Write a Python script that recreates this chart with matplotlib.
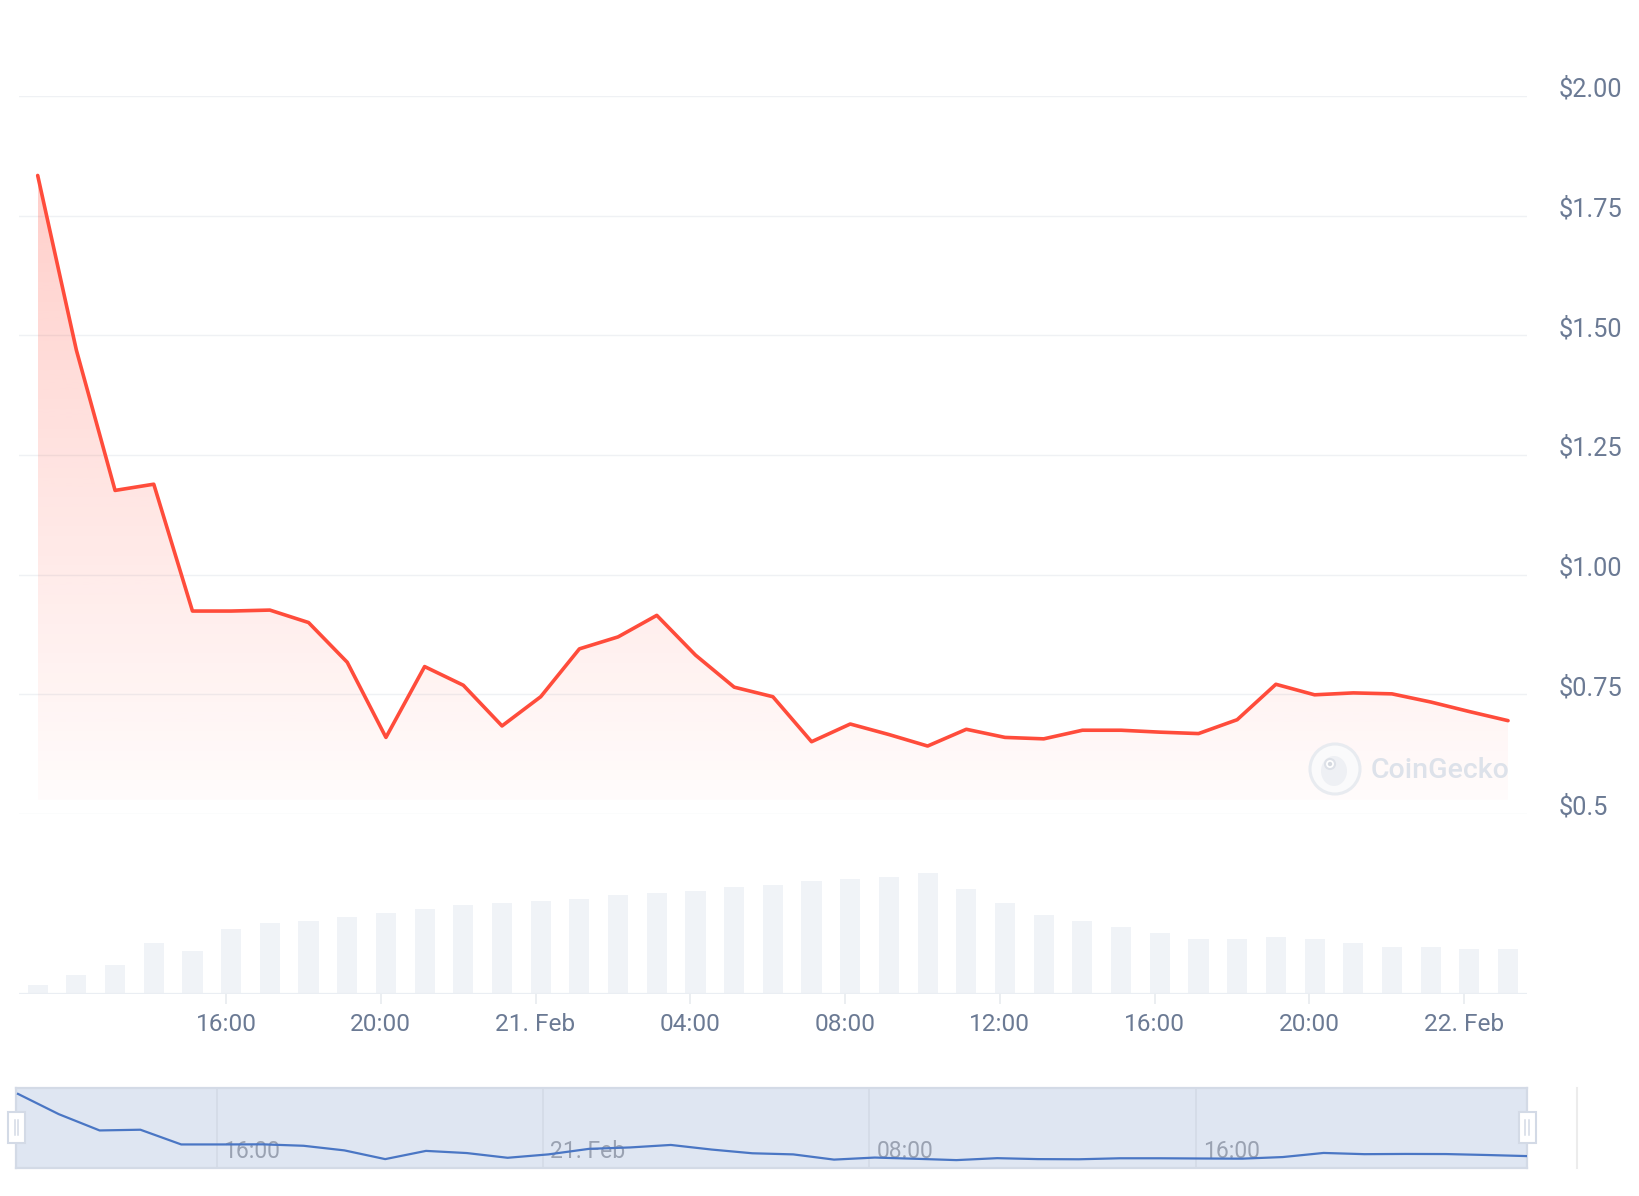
import numpy as np
import matplotlib
matplotlib.use("Agg")
import matplotlib.pyplot as plt
import matplotlib.transforms as mtransforms
from matplotlib.patches import Rectangle, Circle, Ellipse
from matplotlib.lines import Line2D

plt.rcParams["font.family"] = ["Roboto", "DejaVu Sans"]

# hours counted from 20 Feb 00:00, one point per hour starting 11:08
start_hour = 11 + 8 / 60
price = [1.834, 1.469, 1.176, 1.189, 0.924, 0.924, 0.926, 0.900, 0.817, 0.660,
         0.808, 0.769, 0.684, 0.745, 0.845, 0.870, 0.915, 0.832, 0.765, 0.745,
         0.651, 0.688, 0.666, 0.642, 0.677, 0.660, 0.657, 0.675, 0.675, 0.671,
         0.668, 0.697, 0.771, 0.749, 0.753, 0.751, 0.734, 0.714, 0.695]
volume = [0.9, 1.9, 2.9, 5.1, 4.3, 6.5, 7.1, 7.3, 7.7, 8.1, 8.5, 8.9, 9.1, 9.3,
          9.5, 9.9, 10.1, 10.3, 10.7, 10.9, 11.3, 11.5, 11.7, 12.1, 10.5, 9.1,
          7.9, 7.3, 6.7, 6.1, 5.5, 5.5, 5.7, 5.5, 5.1, 4.7, 4.7, 4.5, 4.5]
hours = start_hour + np.arange(len(price))

tick_hours = [16, 20, 24, 28, 32, 36, 40, 44, 48]
tick_labels = ["16:00", "20:00", "21. Feb", "04:00", "08:00", "12:00",
               "16:00", "20:00", "22. Feb"]
price_ticks = [0.5, 0.75, 1.0, 1.25, 1.5, 1.75, 2.0]
price_labels = ["$0.5", "$0.75", "$1.00", "$1.25", "$1.50", "$1.75", "$2.00"]
nav_ticks = [16, 24, 32, 40]
nav_labels = ["16:00", "21. Feb", "08:00", "16:00"]

W, H = 1640, 1196
fig = plt.figure(figsize=(W / 100, H / 100), dpi=100)


def frac(x0, y0, x1, y1):
    # pixel box (top-left origin) -> figure fraction rect
    return [x0 / W, 1 - y1 / H, (x1 - x0) / W, (y1 - y0) / H]


RED = "#ff4c3b"
LABEL = "#6b7a94"
GRID = "#eff1f4"
xlim = (start_hour - 0.483, start_hour + 38.49)

# ---- price pane
ax = fig.add_axes(frac(19, 96, 1527, 814))
ax.set_xlim(xlim)
ax.set_ylim(0.5, 2.0)
for s in ax.spines.values():
    s.set_visible(False)
ax.set_xticks([])
ax.yaxis.tick_right()
ax.set_yticks(price_ticks)
ax.set_yticklabels(price_labels)
ax.tick_params(axis="y", length=0, pad=22.5, labelsize=18.3, labelcolor=LABEL)
for lab in ax.get_yticklabels():
    lab.set_horizontalalignment("left")
    lab.set_transform(lab.get_transform() +
                      mtransforms.ScaledTranslation(0, 9 / 100, fig.dpi_scale_trans))
for v in price_ticks:
    ax.axhline(v, color=GRID, lw=1.0, zorder=0)

base = 0.53
poly = ax.fill_between(hours, price, base, color="none", lw=0)
grad = np.zeros((256, 1, 4))
grad[:, 0, 0] = 1.0
grad[:, 0, 1] = 0x4c / 255
grad[:, 0, 2] = 0x3b / 255
grad[:, 0, 3] = np.linspace(0.02, 0.27, 256)
im = ax.imshow(grad, extent=[hours[0], hours[-1], base, max(price)],
               origin="lower", aspect="auto", zorder=1, interpolation="bilinear")
im.set_clip_path(poly.get_paths()[0], transform=ax.transData)
ax.plot(hours, price, color=RED, lw=2.6, zorder=3,
        solid_joinstyle="round", solid_capstyle="round")

# watermark
wm = fig.add_axes(frac(1300, 735, 1520, 805))
wm.set_xlim(0, 220)
wm.set_ylim(70, 0)
wm.set_aspect("equal")
wm.axis("off")
wm.add_patch(Circle((35, 34), 25, facecolor="#fafafb", edgecolor="#e8ebf0", lw=2.2))
wm.add_patch(Ellipse((34, 36), 26, 30, facecolor="#eef0f4", edgecolor="none"))
wm.add_patch(Circle((30, 29), 5, facecolor="#ffffff", edgecolor="#dde1e8", lw=1.5))
wm.add_patch(Circle((30, 29), 2.2, facecolor="#d5d9e0", edgecolor="none"))
wm.text(71, 35, "CoinGecko", fontsize=20.5, fontweight="medium", color="#dde2ea",
        va="center", ha="left")

# ---- volume pane
axv = fig.add_axes(frac(19, 843, 1527, 994))
axv.set_xlim(xlim)
axv.set_ylim(0, 15.1)
for s in axv.spines.values():
    s.set_visible(False)
axv.set_yticks([])
axv.bar(hours, volume, width=0.52, color="#f0f3f7", zorder=1)
axv.axhline(0, color="#eaeef3", lw=1.6, zorder=2)
axv.set_xticks(tick_hours)
axv.set_xticklabels(tick_labels)
axv.tick_params(axis="x", length=7.5, width=1.1, color="#e6e9ee", pad=6,
                labelsize=17.6, labelcolor=LABEL)

# ---- navigator
axn = fig.add_axes(frac(16.5, 1088, 1527.5, 1168))
nav_left = start_hour - 1.5 / 40.8
axn.set_xlim(nav_left, nav_left + 1511 / 40.8)
axn.set_ylim(0.50, 1.94)
axn.set_facecolor("#dfe6f2")
for s in axn.spines.values():
    s.set_color("#d3dae6")
    s.set_linewidth(1.6)
axn.set_xticks([])
axn.set_yticks([])
for h, lab in zip(nav_ticks, nav_labels):
    axn.axvline(h, color="#d3dae6", lw=1.1, zorder=1)
    tr = mtransforms.offset_copy(axn.get_xaxis_transform(), fig=fig, x=7, y=0, units="dots")
    axn.text(h, 0.2, lab, transform=tr, fontsize=16.5, color="#9aa2b2",
             ha="left", va="center", zorder=2)
axn.plot(hours, price, color="#4a76c4", lw=1.6, zorder=3, clip_on=True)

# navigator handles and scrollbar edge
for cx in (16.5, 1527.2):
    fig.add_artist(Rectangle((frac(cx - 8.5, 0, 0, 0)[0], 1 - 1143 / H), 17 / W, 31 / H,
                             transform=fig.transFigure, facecolor="white",
                             edgecolor="#d3dae6", lw=1.5, zorder=5))
    for dx in (-1.7, 1.7):
        fig.add_artist(Line2D([(cx + dx) / W] * 2, [1 - 1135 / H, 1 - 1120 / H],
                              transform=fig.transFigure, color="#d3dae6", lw=1.1, zorder=6))
fig.add_artist(Line2D([1577 / W] * 2, [1 - 1168 / H, 1 - 1088 / H],
                      transform=fig.transFigure, color="#ececec", lw=1.5))

fig.savefig("out.png", dpi=100, facecolor="white")
